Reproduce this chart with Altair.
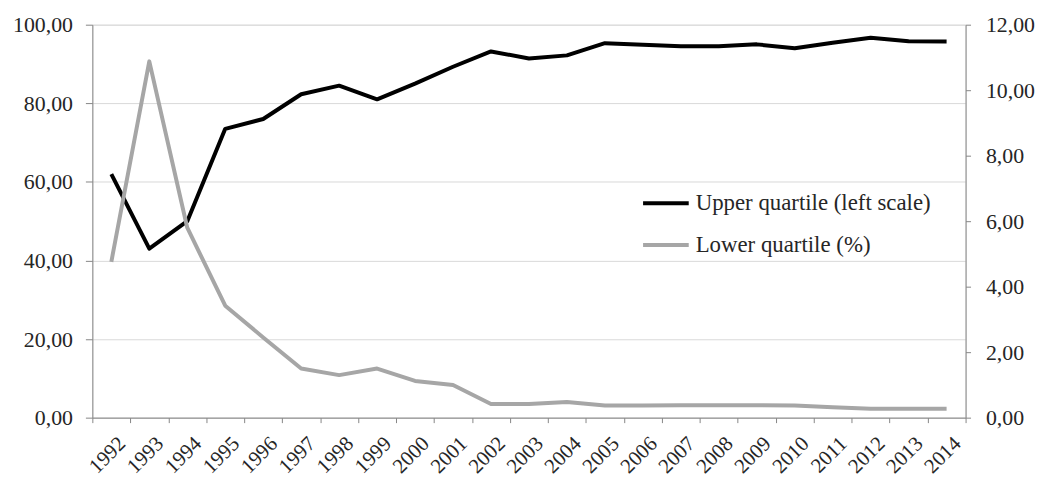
import altair as alt
import pandas as pd

years = [str(y) for y in range(1992, 2015)]
upper = [62.0, 43.0, 50.0, 73.5, 76.0, 82.3, 84.5, 81.0, 85.0, 89.3, 93.2, 91.4,
         92.2, 95.3, 94.9, 94.5, 94.5, 95.0, 94.0, 95.4, 96.7, 95.8, 95.7]
lower = [4.76, 10.88, 5.8, 3.42, 2.45, 1.5, 1.3, 1.5, 1.12, 1.0, 0.42, 0.42,
         0.48, 0.37, 0.37, 0.38, 0.38, 0.38, 0.37, 0.32, 0.27, 0.27, 0.27]
series_names = ["Upper quartile (left scale)", "Lower quartile (%)"]
series_colors = ["#000000", "#a6a6a6"]
left_ticks = [0, 20, 40, 60, 80, 100]
right_ticks = [0, 2, 4, 6, 8, 10, 12]

df = pd.DataFrame({
    "year": years * 2,
    "series": [series_names[0]] * len(years) + [series_names[1]] * len(years),
    "value": upper + lower,
})

FONT = "Liberation Serif"
TXT = "#262626"
AX = "#868686"
label_expr = "replace(format(datum.value, '.2f'), '.', ',')"

x_enc = alt.X(
    "year:O",
    bandPosition=0.5,
    scale=alt.Scale(type="band", paddingInner=0, paddingOuter=0),
    axis=alt.Axis(
        title=None, labelAngle=-45, tickBand="extent", grid=False,
        labelFont=FONT, labelFontSize=21, labelColor=TXT,
        domainColor=AX, tickColor=AX, tickSize=5, labelPadding=10,
        labelOffset=3,
    ),
)

color_enc = alt.Color(
    "series:N",
    scale=alt.Scale(domain=series_names, range=series_colors),
    sort=series_names,
    legend=alt.Legend(
        title=None, orient="none", legendX=553, legendY=155,
        symbolType="stroke", symbolSize=2116, symbolStrokeWidth=4,
        labelFont=FONT, labelFontSize=23, labelColor=TXT, labelOffset=5,
        labelLimit=500, rowPadding=5, padding=0,
    ),
)

left = alt.Chart(df).transform_filter(
    alt.datum.series == series_names[0]
).mark_line(strokeWidth=4, strokeJoin="round").encode(
    x=x_enc,
    y=alt.Y("value:Q", scale=alt.Scale(domain=[0, 100], nice=False),
            axis=alt.Axis(title=None, orient="left", values=left_ticks,
                          labelExpr=label_expr, grid=True, gridColor="#d9d9d9",
                          domainColor=AX, tickColor=AX, tickSize=7,
                          labelPadding=13, labelFont=FONT, labelFontSize=22,
                          labelColor=TXT)),
    color=color_enc,
)

right = alt.Chart(df).transform_filter(
    alt.datum.series == series_names[1]
).mark_line(strokeWidth=4, strokeJoin="round").encode(
    x=x_enc,
    y=alt.Y("value:Q", scale=alt.Scale(domain=[0, 12], nice=False),
            axis=alt.Axis(title=None, orient="right", values=right_ticks,
                          labelExpr=label_expr, grid=False,
                          domainColor=AX, tickColor=AX, tickSize=5,
                          labelPadding=15, labelFont=FONT, labelFontSize=22,
                          labelColor=TXT)),
    color=color_enc,
)

chart = alt.layer(left, right).resolve_scale(y="independent").properties(
    width=880, height=396,
    autosize=alt.AutoSizeParams(type="none"),
    padding={"left": 85, "top": 15, "right": 75, "bottom": 62},
).configure_view(stroke=None).configure(background="white")

chart.save("out.html", embed_options={"renderer": "svg", "actions": False})
